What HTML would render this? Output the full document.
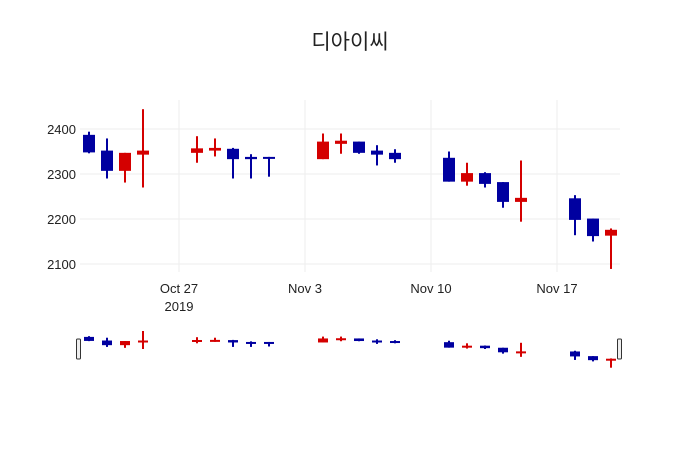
<!DOCTYPE html>
<html><head><meta charset="utf-8">
<style>
body{margin:0;background:#fff;}
svg{display:block;font-family:"Liberation Sans","Noto Sans CJK KR",sans-serif;}
</style></head>
<body>
<svg id="chart" width="700" height="450">
<text x="350" y="49" text-anchor="middle" font-size="21" fill="#222">디아이씨</text>
<g id="grid"></g>
<g id="candles"></g>
<g id="slider"></g>
</svg>
<script>
const dates=["2019-10-22","2019-10-23","2019-10-24","2019-10-25","2019-10-28","2019-10-29","2019-10-30","2019-10-31","2019-11-01","2019-11-04","2019-11-05","2019-11-06","2019-11-07","2019-11-08","2019-11-11","2019-11-12","2019-11-13","2019-11-14","2019-11-15","2019-11-18","2019-11-19","2019-11-20"];
const opens=[2387,2352,2307,2343,2347,2352,2356,2338,2338,2333,2367,2372,2352,2347,2336,2283,2302,2282,2238,2246,2201,2163];
const highs=[2394,2379,2347,2444,2384,2379,2358,2344,2338,2390,2390,2372,2364,2355,2350,2325,2304,2282,2330,2253,2201,2179];
const lows=[2346,2290,2281,2270,2325,2339,2290,2290,2294,2333,2345,2345,2319,2325,2283,2274,2270,2225,2194,2164,2150,2089];
const closes=[2348,2307,2347,2352,2357,2358,2333,2333,2334,2372,2374,2347,2343,2333,2283,2302,2278,2238,2247,2198,2162,2176];
const yTicks=[2100,2200,2300,2400];
const xTicks=["2019-10-27","2019-11-03","2019-11-10","2019-11-17"];
const xTickLabels=["Oct 27","Nov 3","Nov 10","Nov 17"];

const NS="http://www.w3.org/2000/svg";
const day=86400000;
const t0=Date.parse("2019-10-27T00:00:00Z");
function x(d){return 179+(Date.parse(d+"T00:00:00Z")-t0)/day*18;}
function y(v){return 129+(2400-v)*0.45;}
function ys(v){return 331+(2444-v)*0.1034;}
function mk(tag,attrs,parent){const e=document.createElementNS(NS,tag);for(const k in attrs)e.setAttribute(k,attrs[k]);parent.appendChild(e);return e;}
const grid=document.getElementById('grid');
yTicks.forEach(v=>{
  const l=mk('line',{x1:80,x2:620,y1:y(v),y2:y(v),stroke:'#eee'},grid);
  
  
  const t=mk('text',{x:76,y:y(v)+5,'text-anchor':'end','font-size':13,fill:'#222'},grid);
  t.textContent=v;
  
  
});
xTicks.forEach((d,i)=>{
  const l=mk('line',{x1:x(d),x2:x(d),y1:100,y2:272,stroke:'#eee'},grid);
  
  
  const t=mk('text',{x:x(d),y:293,'text-anchor':'middle','font-size':13,fill:'#222'},grid);
  t.textContent=xTickLabels[i];
  
  
});
const yr=mk('text',{x:x(xTicks[0]),y:311,'text-anchor':'middle','font-size':13,fill:'#222'},grid);
yr.textContent="2019";



const cg=document.getElementById('candles');
const sg=document.getElementById('slider');
function drawCandle(g,i,yf,bw,name){
  const up=closes[i]>=opens[i];
  const col=up?'#d40000':'#0000a0';
  const cx=x(dates[i]);
  const grp=mk('g',{},g);
  
  
  mk('line',{x1:cx,x2:cx,y1:yf(highs[i]),y2:yf(lows[i]),stroke:col,'stroke-width':2},grp);
  const top=yf(Math.max(opens[i],closes[i])),bot=yf(Math.min(opens[i],closes[i]));
  mk('rect',{x:cx-bw/2,y:top,width:bw,height:Math.max(bot-top,2),fill:col},grp);
}
dates.forEach((d,i)=>drawCandle(cg,i,y,12,'candle-'+d));
dates.forEach((d,i)=>drawCandle(sg,i,ys,10,'slider-candle-'+d));
[79,620].forEach((hx,k)=>{
  const h=mk('rect',{x:hx-2.5,y:339,width:4,height:20,rx:1,fill:'#eee',stroke:'#333','stroke-width':1},sg);
  
  
});
</script>
</body></html>
